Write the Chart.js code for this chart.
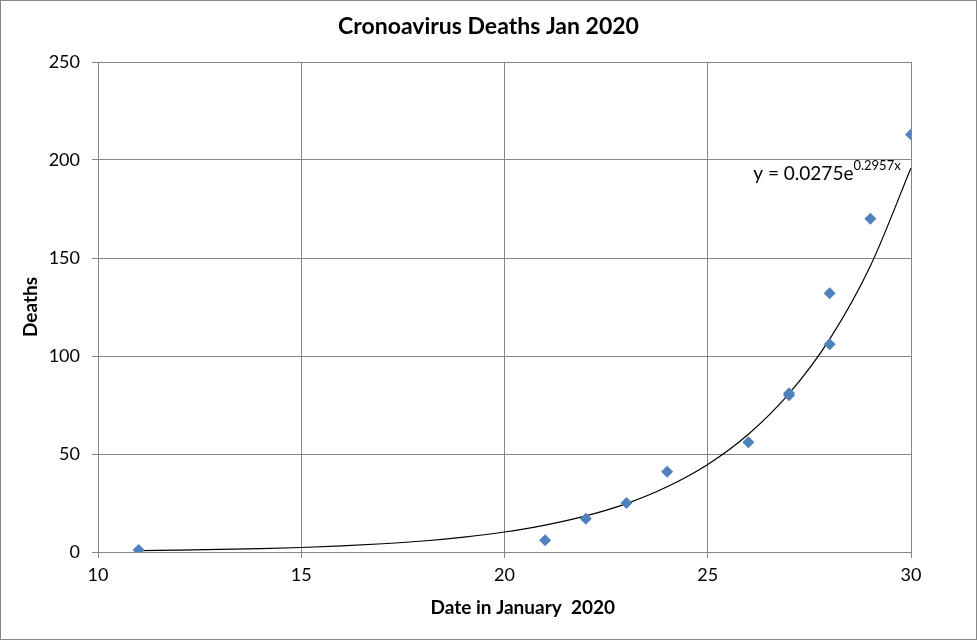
<!DOCTYPE html>
<html>
<head>
<meta charset="utf-8">
<script src="https://cdn.jsdelivr.net/npm/chart.js@4.4.1/dist/chart.umd.min.js"></script>
<style>
  html, body { margin: 0; padding: 0; background: #fff; }
  #wrap { width: 977px; height: 640px; position: relative; }
</style>
</head>
<body>
<div id="wrap"><canvas id="c" width="977" height="640"></canvas></div>
<script>
// observed deaths per January date
const dates = [11, 21, 22, 23, 24, 26, 27, 27, 28, 28, 29, 30];
const deaths = [1, 6, 17, 25, 41, 56, 80, 81, 106, 132, 170, 213];

// exponential trendline
const trendX = [11, 12, 13, 14, 15, 16, 17, 18, 19, 20, 21, 22, 23, 24, 25, 26, 27, 28, 29, 30];
const trendY = [0.7, 1.0, 1.3, 1.7, 2.3, 3.1, 4.2, 5.6, 7.6, 10.2, 13.7, 18.4, 24.7, 33.3, 44.7, 60.1, 80.8, 108.6, 145.9, 195.9];

const xTicks = [10, 15, 20, 25, 30];
const yTicks = [0, 50, 100, 150, 200, 250];

const FONT = 'Lato, "Open Sans", sans-serif';
const GRID = '#868686';

const borderPlugin = {
  id: 'frame',
  afterDraw(chart) {
    const ctx = chart.ctx;
    ctx.save();
    ctx.strokeStyle = GRID;
    ctx.lineWidth = 1;
    ctx.strokeRect(0.5, 0.5, chart.width - 1, chart.height - 1);
    ctx.restore();
  }
};

// trendline equation + x axis title (Excel puts it a bit right of centre)
const textPlugin = {
  id: 'texts',
  afterDatasetsDraw(chart) {
    const ctx = chart.ctx;
    const sx = chart.scales.x, sy = chart.scales.y;
    const x = sx.getPixelForValue(26.12);
    const y = sy.getPixelForValue(190);
    ctx.save();
    ctx.fillStyle = '#000';
    ctx.textBaseline = 'alphabetic';
    ctx.font = '19px ' + FONT;
    const main = 'y = 0.0275e';
    ctx.fillText(main, x, y);
    const w = ctx.measureText(main).width;
    ctx.font = '13px ' + FONT;
    ctx.fillText('0.2957x', x + w, y - 10);

    ctx.font = 'bold 19px ' + FONT;
    ctx.textAlign = 'center';
    ctx.textBaseline = 'middle';
    ctx.fillText('Date in January  2020', sx.getPixelForValue(20.45), sx.bottom - 32);
    ctx.restore();
  }
};

new Chart(document.getElementById('c').getContext('2d'), {
  type: 'scatter',
  data: {
    datasets: [{
      label: 'Deaths',
      data: dates.map((d, i) => ({ x: d, y: deaths[i] })),
      pointStyle: 'rectRot',
      pointRadius: 6,
      pointHoverRadius: 6,
      backgroundColor: '#4f81bd',
      borderColor: '#4f81bd',
      borderWidth: 0,
      order: 1
    }, {
      label: 'Trend',
      type: 'line',
      data: trendX.map((d, i) => ({ x: d, y: trendY[i] })),
      borderColor: '#000',
      borderWidth: 1.2,
      pointRadius: 0,
      fill: false,
      cubicInterpolationMode: 'monotone',
      order: 2
    }]
  },
  options: {
    responsive: false,
    animation: false,
    layout: { padding: 0 },
    scales: {
      x: {
        type: 'linear',
        min: 10,
        max: 30,
        afterBuildTicks: s => { s.ticks = xTicks.map(v => ({ value: v })); },
        afterFit: s => { s.height = 88; },
        grid: { color: GRID, lineWidth: 1, tickLength: 6, tickColor: GRID },
        border: { color: GRID, width: 1 },
        ticks: { color: '#000', font: { family: FONT, size: 18 }, padding: 6, maxRotation: 0 },
        title: { display: false }
      },
      y: {
        min: 0,
        max: 250,
        afterBuildTicks: s => { s.ticks = yTicks.map(v => ({ value: v })); },
        afterFit: s => { s.width = 98; },
        grid: { color: GRID, lineWidth: 1, tickLength: 6, tickColor: GRID },
        border: { color: GRID, width: 1 },
        ticks: { color: '#000', font: { family: FONT, size: 18 }, padding: 12 },
        title: {
          display: true,
          text: 'Deaths',
          color: '#000',
          font: { family: FONT, size: 19, weight: 'bold' },
          padding: { top: 19.6, bottom: 0 }
        }
      },
      spacer: {
        position: 'right',
        display: true,
        afterFit: s => { s.width = 66; },
        grid: { display: false },
        border: { display: false },
        ticks: { display: false }
      }
    },
    plugins: {
      legend: { display: false },
      tooltip: { enabled: false },
      title: {
        display: true,
        text: 'Cronoavirus Deaths Jan 2020',
        color: '#000',
        font: { family: FONT, size: 23, weight: 'bold' },
        padding: { top: 13, bottom: 21.4 }
      }
    }
  },
  plugins: [borderPlugin, textPlugin]
});
</script>
</body>
</html>
